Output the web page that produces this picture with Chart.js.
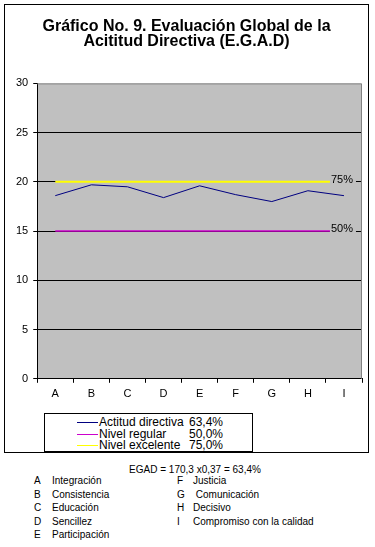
<!DOCTYPE html>
<html>
<head>
<meta charset="utf-8">
<script src="https://cdn.jsdelivr.net/npm/chart.js@4.4.0/dist/chart.umd.min.js"></script>
<style>
    body { margin: 0; background: #fff; font-family: "Liberation Sans", Arial, sans-serif; }
    #page { position: relative; width: 375px; height: 547px; overflow: hidden; }
    #frame { position: absolute; left: 4px; top: 4px; width: 365px; height: 449px; box-sizing: border-box; border: 1px solid #000; pointer-events: none; }
    #chart { position: absolute; left: 0; top: 0; }
    #legendBox { position: absolute; left: 44px; top: 413px; width: 209px; height: 40px; box-sizing: border-box; border: 1px solid #000; border-bottom-width: 2px; background: #fff; }
    .leg-row { position: absolute; left: 0; height: 12px; font-size: 12px; line-height: 12px; color: #000; white-space: nowrap; }
    .leg-line { position: absolute; left: 32px; top: 6px; width: 21px; height: 1px; }
    .leg-name { position: absolute; left: 54px; top: 0; }
    .leg-val { position: absolute; left: 125px; width: 53px; top: 0; text-align: right; }
    #egad { position: absolute; left: 0; width: 390px; top: 464px; text-align: center; font-size: 10px; line-height: 12px; }
    .key { position: absolute; font-size: 10px; line-height: 12px; white-space: nowrap; }
</style>
</head>
<body>
<div id="page">
    <canvas id="chart" width="375" height="406"></canvas>
    <div id="frame"></div>
    <div id="legendBox"></div>
    <div id="egad">EGAD = 170,3 x0,37 = 63,4%</div>
    <div id="keyList"></div>
</div>
<script>
// Chart data
const categories = ['A', 'B', 'C', 'D', 'E', 'F', 'G', 'H', 'I'];
const actitudValues = [18.6, 19.7, 19.5, 18.4, 19.6, 18.7, 18.0, 19.1, 18.6];
const regularValues = [15, 15, 15, 15, 15, 15, 15, 15, 15];
const excelenteValues = [20, 20, 20, 20, 20, 20, 20, 20, 20];
const seriesNames = ['Actitud directiva', 'Nivel regular', 'Nivel excelente'];
const legendPercents = ['63,4%', '50,0%', '75,0%'];
const endLabels = [null, '50%', '75%'];
const yTicks = [0, 5, 10, 15, 20, 25, 30];
const keyNames = ['Integración', 'Consistencia', 'Educación', 'Sencillez', 'Participación',
    'Justicia', ' Comunicación', 'Decisivo', 'Compromiso con la calidad'];

const FONT = '"Liberation Sans", Arial, sans-serif';
const PLOT_BG = '#c0c0c0';

// Gray plot area with gray top/right edges
const plotArea = {
    id: 'plotArea',
    beforeDraw(chart) {
        const a = chart.chartArea;
        const ctx = chart.ctx;
        ctx.save();
        ctx.fillStyle = PLOT_BG;
        ctx.fillRect(a.left, a.top, a.right - a.left, a.bottom - a.top);
        ctx.restore();
    },
    beforeDatasetsDraw(chart) {
        const a = chart.chartArea;
        const ctx = chart.ctx;
        ctx.save();
        ctx.strokeStyle = '#808080';
        ctx.lineWidth = 1;
        ctx.beginPath();
        ctx.moveTo(a.left, a.top + 0.5);
        ctx.lineTo(a.right - 0.5, a.top + 0.5);
        ctx.lineTo(a.right - 0.5, a.bottom);
        ctx.stroke();
        ctx.restore();
    }
};

// Label at the last point of the level lines ("50%", "75%")
const endLabel = {
    id: 'endLabel',
    afterDatasetsDraw(chart) {
        const ctx = chart.ctx;
        chart.data.datasets.forEach((ds, i) => {
            if (!endLabels[i]) return;
            const meta = chart.getDatasetMeta(i);
            const pt = meta.data[meta.data.length - 1];
            ctx.save();
            ctx.font = '11px ' + FONT;
            const w = ctx.measureText(endLabels[i]).width;
            ctx.fillStyle = PLOT_BG;
            ctx.fillRect(pt.x - w / 2 - 3, pt.y - 9, w + 4, 11);
            ctx.fillStyle = '#000';
            ctx.textAlign = 'center';
            ctx.textBaseline = 'alphabetic';
            ctx.fillText(endLabels[i], pt.x - 2, pt.y + 1);
            ctx.restore();
        });
    }
};

const ctx = document.getElementById('chart').getContext('2d');
const chart = new Chart(ctx, {
    type: 'line',
    data: {
        labels: categories,
        datasets: [
            { label: seriesNames[0], data: actitudValues, borderColor: '#000080', borderWidth: 1 },
            { label: seriesNames[1], data: regularValues, borderColor: '#cc00cc', borderWidth: 1.5 },
            { label: seriesNames[2], data: excelenteValues, borderColor: '#ffff00', borderWidth: 2 }
        ]
    },
    options: {
        responsive: false,
        animation: false,
        devicePixelRatio: 1,
        elements: { point: { radius: 0 }, line: { tension: 0 } },
        layout: { padding: { left: 11, right: 13, top: 0, bottom: 0 } },
        plugins: {
            legend: { display: false },
            tooltip: { enabled: false },
            title: {
                display: true,
                text: ['Gráfico No. 9. Evaluación Global de la', 'Acititud Directiva (E.G.A.D)'],
                color: '#000',
                font: { family: FONT, size: 16, weight: 'bold', lineHeight: 0.95 },
                padding: { top: 19, bottom: 34 }
            }
        },
        scales: {
            x: {
                offset: true,
                grid: { offset: true, drawOnChartArea: false, color: '#000', tickLength: 4 },
                border: { color: '#000', width: 1 },
                ticks: { color: '#000', font: { family: FONT, size: 11 }, padding: 5, maxRotation: 0 }
            },
            y: {
                min: 0,
                max: 30,
                afterBuildTicks: scale => { scale.ticks = yTicks.map(v => ({ value: v })); },
                grid: {
                    color: c => (c.tick && (c.tick.value === 30 || c.tick.value === 0)) ? 'rgba(0,0,0,0)' : '#000',
                    tickColor: '#000',
                    tickLength: 4
                },
                border: { color: '#000', width: 1 },
                ticks: { color: '#000', font: { family: FONT, size: 11 }, padding: 5 }
            }
        }
    },
    plugins: [plotArea, endLabel]
});

// Legend box built from the chart's datasets
const legendBox = document.getElementById('legendBox');
chart.data.datasets.forEach((ds, i) => {
    const row = document.createElement('div');
    row.className = 'leg-row';
    row.style.top = (2 + i * 11.5) + 'px';
    row.innerHTML = `
        <div class="leg-line" style="background:${ds.borderColor}"></div>
        <div class="leg-name">${ds.label}</div>
        <div class="leg-val">${legendPercents[i]}</div>
    `;
    legendBox.appendChild(row);
});

// Category key below the chart
const keyList = document.getElementById('keyList');
categories.forEach((c, i) => {
    const col = i < 5 ? 0 : 1;
    const r = i < 5 ? i : i - 5;
    const top = 475 + r * 13.5;
    const letter = document.createElement('div');
    letter.className = 'key';
    letter.style.left = (col ? 177 : 34) + 'px';
    letter.style.top = top + 'px';
    letter.textContent = c;
    const name = document.createElement('div');
    name.className = 'key';
    name.style.left = (col ? 193 : 52) + 'px';
    name.style.top = top + 'px';
    name.style.whiteSpace = 'pre';
    name.textContent = keyNames[i];
    keyList.appendChild(letter);
    keyList.appendChild(name);
});
</script>
</body>
</html>
